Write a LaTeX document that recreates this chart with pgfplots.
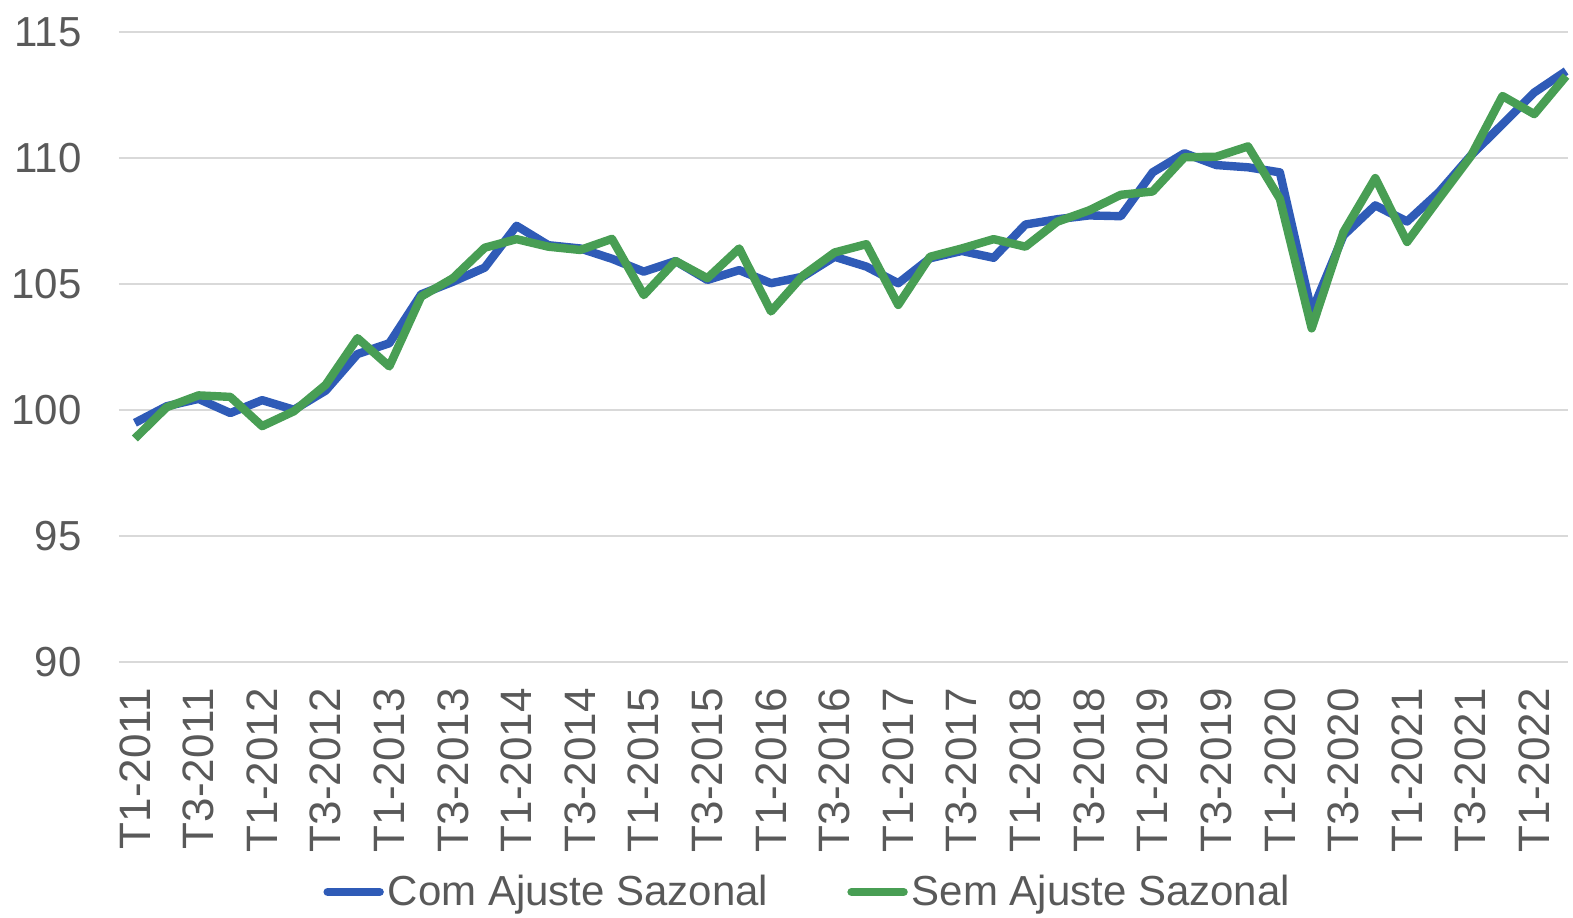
\documentclass[border=0pt]{standalone}
\usepackage{pgfplots}
\pgfplotsset{compat=1.18}
\usepackage{pgfplotstable}
\usepackage{fontspec}
\setmainfont{Liberation Sans}

\definecolor{azul}{RGB}{47,91,183}
\definecolor{verde}{RGB}{72,158,84}
\definecolor{grade}{RGB}{217,217,217}
\definecolor{texto}{RGB}{89,89,89}

% i = trimestre (0 = T1-2011)
\pgfplotstableread{
i  com     sem
0  99.49   98.87
1  100.15  100.11
2  100.44  100.58
3  99.88   100.52
4  100.39  99.36
5  100.01  99.95
6  100.77  101.00
7  102.22  102.85
8  102.65  101.73
9  104.59  104.50
10 105.09  105.23
11 105.65  106.44
12 107.31  106.78
13 106.54  106.48
14 106.41  106.35
15 106.00  106.79
16 105.49  104.56
17 105.91  105.91
18 105.16  105.23
19 105.55  106.41
20 105.03  103.91
21 105.29  105.33
22 106.08  106.25
23 105.69  106.58
24 105.03  104.17
25 106.02  106.08
26 106.31  106.41
27 106.04  106.78
28 107.36  106.48
29 107.57  107.47
30 107.72  107.92
31 107.69  108.54
32 109.43  108.67
33 110.19  110.03
34 109.72  110.05
35 109.63  110.46
36 109.43  108.38
37 103.90  103.24
38 106.93  107.06
39 108.12  109.20
40 107.48  106.67
41 108.64  108.38
42 110.09  110.06
43 111.34  112.46
44 112.60  111.74
45 113.45  113.25
}\dados

\begin{document}
\begin{tikzpicture}
\begin{axis}[
  scale only axis,
  width=724.5pt, height=315pt,
  xmin=-0.5, xmax=45.06,
  ymin=90, ymax=115,
  ytick={90,95,...,115},
  xtick={0,2,...,44},
  xticklabels={T1-2011,T3-2011,T1-2012,T3-2012,T1-2013,T3-2013,T1-2014,T3-2014,
    T1-2015,T3-2015,T1-2016,T3-2016,T1-2017,T3-2017,T1-2018,T3-2018,T1-2019,
    T3-2019,T1-2020,T3-2020,T1-2021,T3-2021,T1-2022},
  ymajorgrids,
  grid style={grade, line width=1pt},
  axis line style={draw=none},
  major tick length=0pt,
  tick label style={font=\fontsize{21}{24}\selectfont, text=texto},
  /pgf/number format/assume math mode=true,
  xticklabel style={rotate=90, anchor=east, inner sep=0pt,
    font=\fontsize{22}{24}\selectfont},
  xticklabel shift=13pt,
  yticklabel style={anchor=east, inner sep=0pt},
  yticklabel shift=18.5pt,
  legend style={at={(0.476,-0.365)}, anchor=center, draw=none,
    font=\fontsize{21}{24}\selectfont, text=texto,
    /tikz/every even column/.append style={column sep=37.5pt}},
  legend columns=2,
  legend image code/.code={\draw[#1, line cap=round] (0pt,0pt) -- (26pt,0pt);},
  line join=round,
  clip=false,
]
\addplot[azul, line width=4.2pt] table[x=i, y=com] {\dados};
\addlegendentry{Com Ajuste Sazonal}
\addplot[verde, line width=4.2pt] table[x=i, y=sem] {\dados};
\addlegendentry{Sem Ajuste Sazonal}
\coordinate (o) at (rel axis cs:0,0);
\coordinate (p) at (rel axis cs:1,1);
\end{axis}
\pgfresetboundingbox
\path ([xshift=-59.5pt,yshift=-128pt]o) rectangle ([xshift=2.5pt,yshift=16pt]p);
\end{tikzpicture}
\end{document}
